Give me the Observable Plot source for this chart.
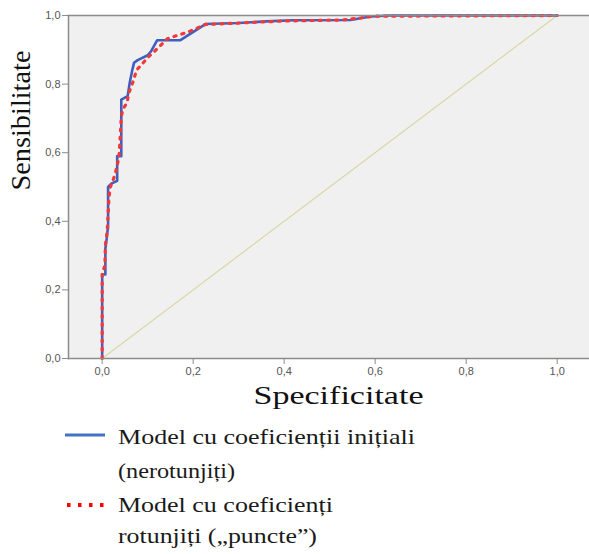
<!DOCTYPE html>
<html><head><meta charset="utf-8">
<script src="https://cdn.jsdelivr.net/npm/d3@7"></script>
<script src="https://cdn.jsdelivr.net/npm/@observablehq/plot@0.6"></script>
<style>body{margin:0;background:#fff;} #chart svg, #legend svg{display:block}</style>
</head><body><div id="chart"></div><div id="legend"></div>
<script>
const xTicks = [0, 0.2, 0.4, 0.6, 0.8, 1];
const yTicks = [0, 0.2, 0.4, 0.6, 0.8, 1];
const blueFpr = [0, 0, 0.007, 0.007, 0.010, 0.012, 0.013, 0.013, 0.020, 0.033, 0.033, 0.042, 0.042, 0.056, 0.060, 0.066, 0.070, 0.078, 0.100, 0.107, 0.121, 0.172, 0.227, 0.300, 0.360, 0.420, 0.546, 0.590, 0.630, 1.0];
const blueTpr = [0, 0.245, 0.245, 0.320, 0.350, 0.375, 0.380, 0.500, 0.510, 0.518, 0.590, 0.590, 0.755, 0.765, 0.800, 0.840, 0.862, 0.870, 0.884, 0.895, 0.928, 0.928, 0.975, 0.978, 0.983, 0.986, 0.987, 0.997, 1.0, 1.0];
const redFpr = [0, 0, 0.006, 0.007, 0.011, 0.013, 0.015, 0.018, 0.024, 0.029, 0.037, 0.040, 0.042, 0.045, 0.055, 0.058, 0.064, 0.070, 0.075, 0.088, 0.102, 0.113, 0.143, 0.165, 0.187, 0.205, 0.227, 0.300, 0.400, 0.530, 0.600, 1.0];
const redTpr = [0, 0.25, 0.27, 0.33, 0.37, 0.42, 0.47, 0.50, 0.52, 0.54, 0.587, 0.656, 0.703, 0.725, 0.747, 0.772, 0.793, 0.815, 0.84, 0.859, 0.88, 0.893, 0.932, 0.942, 0.951, 0.961, 0.974, 0.978, 0.984, 0.987, 0.998, 1.0];
const refFpr = [0, 1];
const refTpr = [0, 1];
const xLabel = "Specificitate";
const yLabel = "Sensibilitate";
const legendLines = ["Model cu coeficienții inițiali", "(nerotunjiți)", "Model cu coeficienți", "rotunjiți („puncte”)"];

const fmt = d => d.toFixed(1).replace(".", ",");
const toRows = (xs, ys) => xs.map((x, i) => ({x, y: ys[i]}));
const blue = toRows(blueFpr, blueTpr);
const red = toRows(redFpr, redTpr);
const ref = toRows(refFpr, refTpr);
const frameColor = "#8c8c8c";

const plot = Plot.plot({
  width: 589, height: 410,
  marginTop: 15, marginLeft: 68, marginRight: 0, marginBottom: 52,
  x: {domain: [-0.074, 1.071]},
  y: {domain: [0, 1]},
  style: {fontFamily: "'Liberation Sans', Arial, sans-serif", background: "#fff"},
  marks: [
    Plot.frame({fill: "#f0f0f0", stroke: null}),
    Plot.line(ref, {x: "x", y: "y", stroke: "#d8d8a6", strokeWidth: 1.2}),
    Plot.line(blue, {x: "x", y: "y", stroke: "#3f5fbf", strokeWidth: 2.6}),
    Plot.line(red, {x: "x", y: "y", stroke: "#f03a3a", strokeWidth: 3.2, strokeDasharray: "2.2,6"}),
    Plot.frame({anchor: "top", stroke: frameColor, strokeWidth: 1.5}),
    Plot.frame({anchor: "left", stroke: frameColor, strokeWidth: 1.5}),
    Plot.frame({anchor: "bottom", stroke: frameColor, strokeWidth: 1.5}),
    Plot.axisX(xTicks, {tickFormat: fmt, tickSize: 6, tickPadding: 3, fontSize: 11, fill: "#555", stroke: frameColor, label: null}),
    Plot.axisY(yTicks, {tickFormat: fmt, tickSize: 6, tickPadding: 2, fontSize: 11, fill: "#555", stroke: frameColor, label: null}),
    Plot.text([xLabel], {text: d => d, frameAnchor: "bottom", dy: 45, dx: 9.5, lineAnchor: "bottom", fontSize: 26, fontFamily: "'Liberation Serif', 'Times New Roman', serif", fill: "#111"}),
    Plot.text([yLabel], {text: d => d, frameAnchor: "left", rotate: -90, dx: -39, dy: 3.5, lineAnchor: "bottom", fontSize: 28, fontFamily: "'Liberation Serif', 'Times New Roman', serif", fill: "#111"})
  ]
});
document.getElementById("chart").appendChild(plot);
d3.select(plot).selectAll("text").filter(function() { return this.textContent === xLabel; })
  .attr("textLength", 170).attr("lengthAdjust", "spacingAndGlyphs");
d3.select(plot).selectAll("text").filter(function() { return this.textContent === yLabel; })
  .attr("textLength", 140).attr("lengthAdjust", "spacingAndGlyphs");

// Legend below the chart
const lg = d3.select("#legend").append("svg").attr("width", 589).attr("height", 144);
lg.append("line").attr("x1", 65).attr("x2", 105).attr("y1", 25).attr("y2", 25)
  .attr("stroke", "#4472c4").attr("stroke-width", 3);
lg.append("line").attr("x1", 67).attr("x2", 104).attr("y1", 95).attr("y2", 95)
  .attr("stroke", "#ff0000").attr("stroke-width", 4).attr("stroke-dasharray", "3.5,7.5");
const baselines = [34, 67.7, 101.7, 133];
const widths = [297, 117, 215, 199];
legendLines.forEach((t, i) => {
  lg.append("text").attr("x", 118).attr("y", baselines[i])
    .attr("font-family", "'Liberation Serif', 'Times New Roman', serif")
    .attr("font-size", 21).attr("fill", "#1a1a1a")
    .attr("textLength", widths[i]).attr("lengthAdjust", "spacingAndGlyphs")
    .text(t);
});
</script>
</body></html>
